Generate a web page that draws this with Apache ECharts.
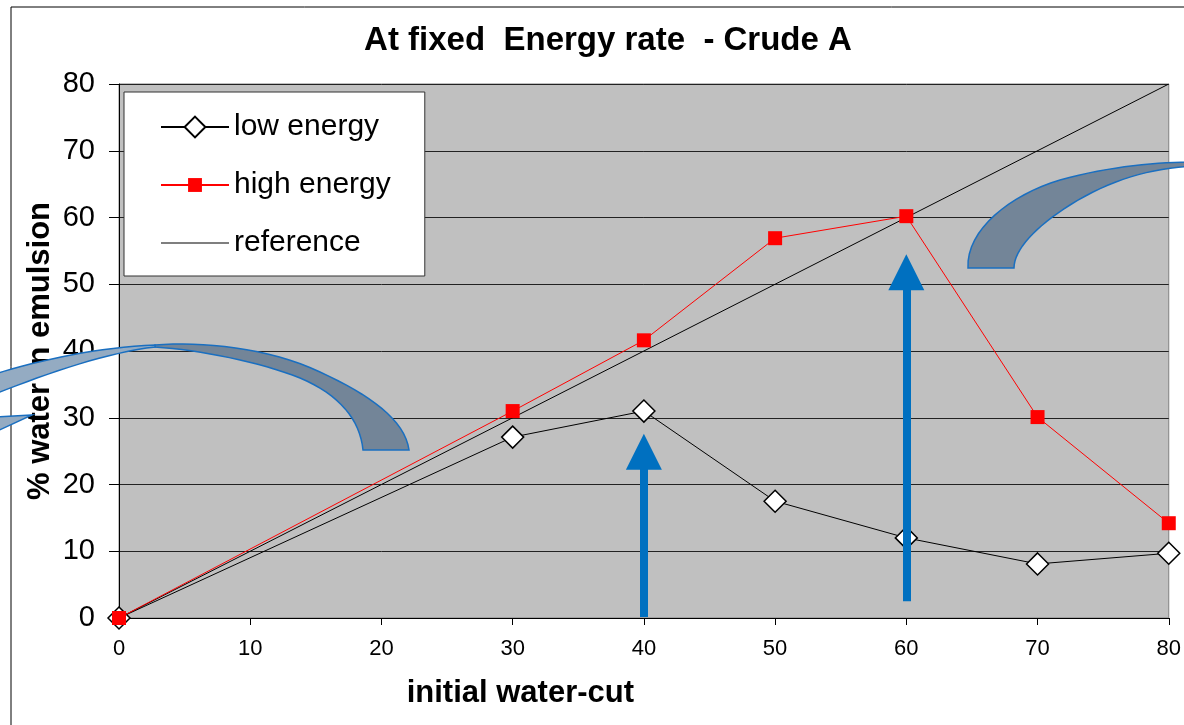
<!DOCTYPE html>
<html>
<head>
<meta charset="utf-8">
<script src="https://cdn.jsdelivr.net/npm/echarts@6/dist/echarts.min.js"></script>
<style>
html,body{margin:0;padding:0;background:#fff;}
#chart{width:1184px;height:725px;}
</style>
</head>
<body>
<div id="chart"></div>
<script>
// ---- data ----
var waterCut = [0, 30, 40, 50, 60, 70, 80];
var lowEnergy = [0, 27.1, 31.0, 17.5, 12.0, 8.1, 9.7];
var highEnergy = [0, 31.0, 41.6, 56.9, 60.2, 30.1, 14.2];
var referenceX = [0, 80];
var referenceY = [0, 80];
// annotation arrows: [x, yStart, yHeadCenter]
var arrows = [[40, 0.15, 24.9], [60, 2.5, 51.8]];
var seriesNames = ['low energy', 'high energy', 'reference'];
var titleText = 'At fixed  Energy rate  - Crude A';
var xName = 'initial water-cut';
var yName = '% water in emulsion';

function pairs(xs, ys) { return xs.map(function (x, i) { return [x, ys[i]]; }); }

// decoration outlines: start point then segments (cubic [c1x,c1y,c2x,c2y,x,y] or line [x,y])
function outline(start, segs) {
  var pts = [start.slice()];
  var cur = start.slice();
  segs.forEach(function (s) {
    if (s.length === 2) { pts.push(s.slice()); cur = s.slice(); return; }
    for (var i = 1; i <= 16; i++) {
      var t = i / 16, u = 1 - t;
      var x = u*u*u*cur[0] + 3*u*u*t*s[0] + 3*u*t*t*s[2] + t*t*t*s[4];
      var y = u*u*u*cur[1] + 3*u*u*t*s[1] + 3*u*t*t*s[3] + t*t*t*s[5];
      pts.push([x, y]);
    }
    cur = [s[4], s[5]];
  });
  return pts;
}

var FONT = "'Liberation Sans', Arial, sans-serif";
var squareIcon = 'path://M0,0M30,30M5,5L25,5L25,25L5,25Z';
var lineIcon = 'path://M0,0L68,0L68,1.2L0,1.2Z';

var chart = echarts.init(document.getElementById('chart'), null, { renderer: 'canvas' });

var deco = { fill: '#738598', stroke: '#1A6FC0', lineWidth: 1.5 };
var decoLight = { fill: '#94ABC2', stroke: '#1A6FC0', lineWidth: 1.5 };

var option = {
  animation: false,
  backgroundColor: '#ffffff',
  textStyle: { fontFamily: FONT },
  title: {
    text: titleText,
    left: 608,
    textAlign: 'center',
    top: 24,
    padding: 0,
    textStyle: { fontFamily: FONT, fontSize: 33, fontWeight: 'bold', color: '#000' }
  },
  grid: {
    left: 119, right: 14, top: 84, bottom: 107,
    show: true, backgroundColor: '#C0C0C0', borderColor: '#808080', borderWidth: 1
  },
  legend: {
    orient: 'vertical',
    left: 124, top: 92,
    data: [
      { name: seriesNames[0] },
      { name: seriesNames[1] },
      { name: seriesNames[2], icon: lineIcon, itemStyle: { color: '#000' } }
    ],
    backgroundColor: '#ffffff',
    borderColor: '#333333', borderWidth: 1,
    padding: [20, 34, 18, 36],
    itemWidth: 68, itemHeight: 26, itemGap: 28,
    selectedMode: false,
    textStyle: { fontFamily: FONT, fontSize: 30, color: '#000', lineHeight: 26 }
  },
  xAxis: {
    type: 'value', min: 0, max: 80, interval: 10,
    name: xName, nameLocation: 'middle', nameGap: 60, nameMoveOverlap: false,
    nameTextStyle: { fontFamily: FONT, fontSize: 31, fontWeight: 'bold', color: '#000', padding: [0, 247, 0, 0] },
    axisLine: { show: true, lineStyle: { color: '#000', width: 1 } },
    axisTick: { show: true, inside: false, length: 7, lineStyle: { color: '#000' } },
    axisLabel: { fontFamily: FONT, fontSize: 22, color: '#000', margin: 20 },
    splitLine: { show: false }
  },
  yAxis: {
    type: 'value', min: 0, max: 80, interval: 10,
    name: yName, nameLocation: 'middle', nameGap: 63, nameMoveOverlap: false,
    nameTextStyle: { fontFamily: FONT, fontSize: 31, fontWeight: 'bold', color: '#000' },
    axisLine: { show: true, lineStyle: { color: '#000', width: 1 } },
    axisTick: { show: true, inside: false, length: 10, lineStyle: { color: '#000' } },
    axisLabel: { fontFamily: FONT, fontSize: 29, color: '#000', margin: 24 },
    splitLine: { show: true, lineStyle: { color: '#222', width: 1 } }
  },
  series: [
    {
      name: seriesNames[0], type: 'line', data: pairs(waterCut, lowEnergy),
      symbol: 'diamond', symbolSize: 22, showAllSymbol: true,
      lineStyle: { color: '#000', width: 1 },
      itemStyle: { color: '#ffffff', borderColor: '#000', borderWidth: 1.5 },
      z: 3
    },
    {
      name: seriesNames[1], type: 'line', data: pairs(waterCut, highEnergy),
      symbol: squareIcon, symbolSize: 21, showAllSymbol: true,
      lineStyle: { color: '#ff0000', width: 1 },
      itemStyle: { color: '#ff0000', borderWidth: 0 },
      z: 4
    },
    {
      name: seriesNames[2], type: 'line', data: pairs(referenceX, referenceY),
      symbol: 'none',
      lineStyle: { color: '#000', width: 1 },
      itemStyle: { color: '#000' },
      z: 2,
      markLine: {
        silent: true,
        symbol: ['none', 'triangle'],
        symbolSize: 36,
        label: { show: false },
        lineStyle: { color: '#0070C0', width: 8, type: 'solid' },
        itemStyle: { color: '#0070C0' },
        emphasis: { disabled: true },
        data: arrows.map(function (a) {
          return [{ coord: [a[0], a[1]] }, { coord: [a[0], a[2]] }];
        })
      }
    }
  ],
  graphic: [
    {
      type: 'rect', silent: true, z: 100,
      shape: { x: 11, y: 7, width: 1200, height: 740 },
      style: { fill: 'none', stroke: '#000', lineWidth: 1 }
    },
    {
      type: 'polygon', silent: true, z: 100,
      shape: { points: outline([155, 345], [[200,341,270,348,320,372],[370,395,405,420,409,450],[363,450],[360,420,340,395,300,378],[260,362,200,350,155,347]]) },
      style: deco
    },
    {
      type: 'polygon', silent: true, z: 100,
      shape: { points: outline([-5, 374], [[40,360,100,347,155,345],[155,347],[110,352,50,372,-5,394]]) },
      style: decoLight
    },
    {
      type: 'polygon', silent: true, z: 100,
      shape: { points: [[-5, 417], [32, 415], [-5, 432]] },
      style: decoLight
    },
    {
      type: 'polygon', silent: true, z: 100,
      shape: { points: outline([968, 268], [[966,230,1010,195,1060,180],[1110,166,1160,162,1195,162],[1195,166],[1150,168,1110,180,1070,205],[1035,227,1014,250,1014,268]]) },
      style: deco
    }
  ]
};
chart.setOption(option);
</script>
</body>
</html>
